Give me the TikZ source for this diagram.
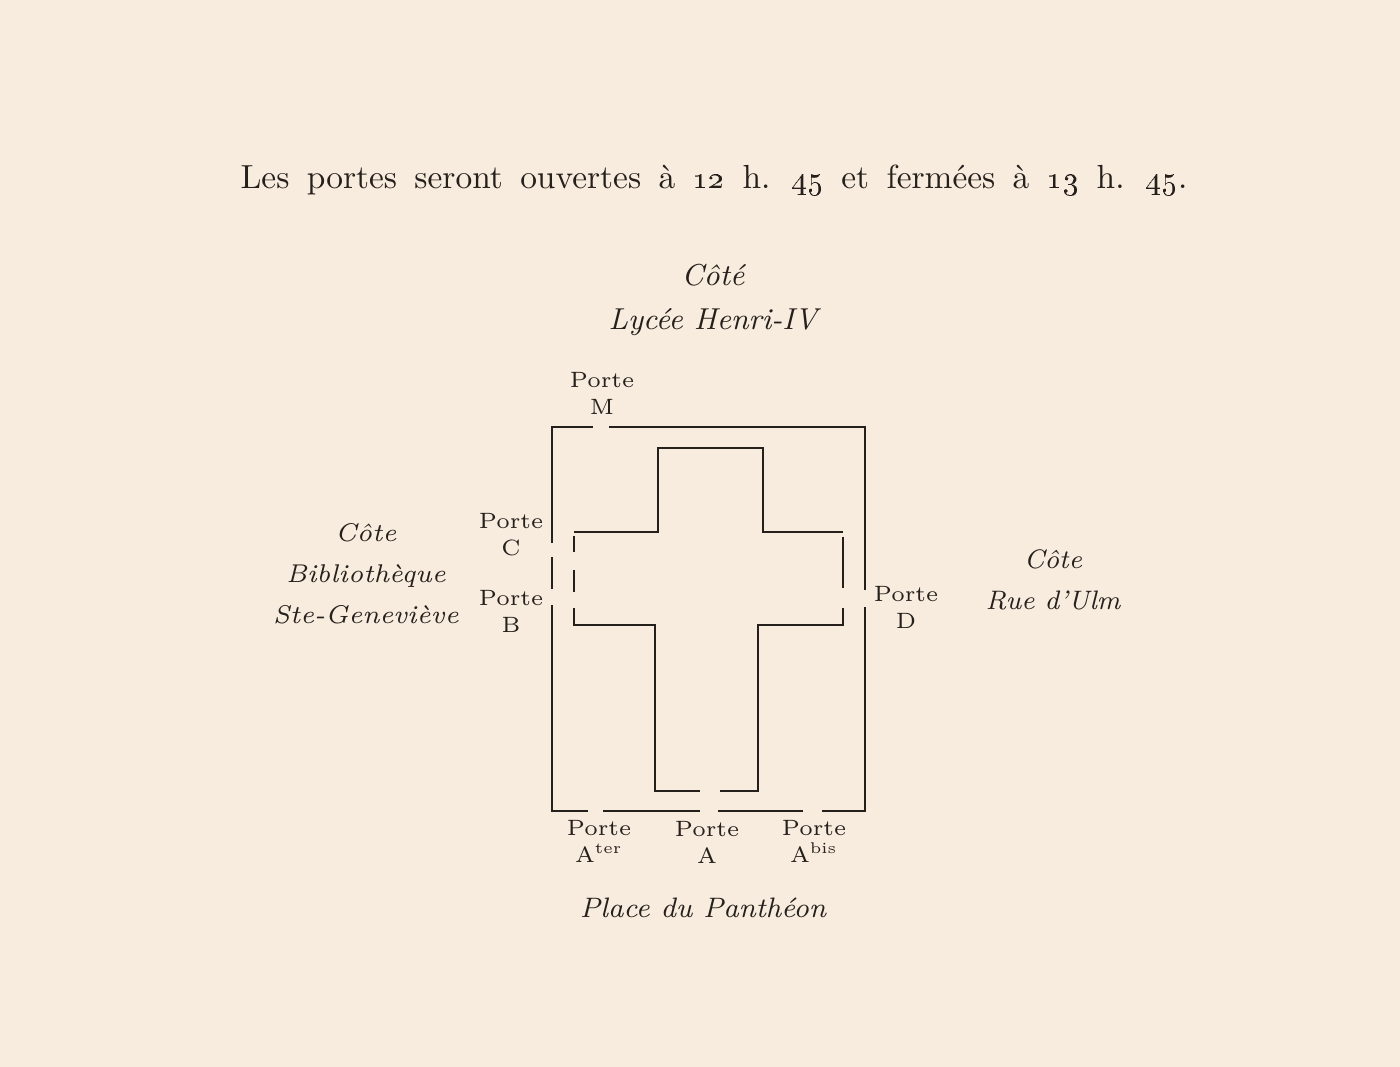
\documentclass[tikz,border=0pt]{standalone}
\definecolor{paper}{RGB}{248,236,222}
\definecolor{ink}{RGB}{38,32,28}
\tikzset{
   wall/.style={draw=ink, line width=0.55pt},
   porte/.style={font=\fontsize{6.3}{7.7}\selectfont, text=ink, align=center, inner sep=0pt},
   cote/.style={font=\fontsize{8}{11.7}\selectfont\itshape, text=ink, align=center, inner sep=0pt}
}
\begin{document}
\begin{tikzpicture}[x=0.01cm, y=-0.01cm]
   \def\xl{552}   % outer wall, left
   \def\xr{865}   % outer wall, right
   \def\yt{427}   % outer wall, top
   \def\yb{811}   % outer wall, bottom
   \fill[paper] (0,0) rectangle (1400,1067);   % page
   \node[font=\fontsize{9.5}{11}\selectfont, text=ink] (titre) at (714,180)
      {\spaceskip=0.52em\relax Les portes seront ouvertes à \oldstylenums{12} h. \oldstylenums{45} et fermées à \oldstylenums{13} h. \oldstylenums{45}.};
   % outer wall, with the doors left open
   \draw[wall] (609,\yt) -- (\xr,\yt) -- (\xr,590);
   \draw[wall] (\xr,607) -- (\xr,\yb) -- (822,\yb);
   \draw[wall] (803,\yb) -- (718,\yb);
   \draw[wall] (700,\yb) -- (603,\yb);
   \draw[wall] (588,\yb) -- (\xl,\yb) -- (\xl,605);
   \draw[wall] (\xl,589) -- (\xl,557);
   \draw[wall] (\xl,543) -- (\xl,\yt) -- (593,\yt);
   % the cross
   \draw[wall] (574,532) -- (658,532) -- (658,448) -- (763,448) -- (763,532) -- (843,532);
   \draw[wall] (843,537) -- (843,588);
   \draw[wall] (843,608) -- (843,625) -- (758,625) -- (758,791) -- (720,791);
   \draw[wall] (700,791) -- (655,791) -- (655,625) -- (574,625) -- (574,608);
   \draw[wall] (574,592) -- (574,570);
   \draw[wall] (574,552) -- (574,536);
   % doors
   \node[porte] (pM) at (602,393) {Porte\\M};
   \node[porte] (pC) at (511,535) {Porte\\C};
   \node[porte] (pB) at (511,611) {Porte\\B};
   \node[porte] (pD) at (906,607) {Porte\\D};
   \node[porte] (pAter) at (599,841) {Porte\\A\textsuperscript{ter}};
   \node[porte] (pA) at (707,842) {Porte\\A};
   \node[porte] (pAbis) at (814,841) {Porte\\A\textsuperscript{bis}};
   % sides
   \node[cote, font=\fontsize{8.6}{12.6}\selectfont\itshape] (nord) at (713,300) {Côté\\Lycée Henri-IV};
   \node[cote, font=\fontsize{7.3}{11.7}\selectfont\itshape] (ouest) at (366,574) {Côte\\Bibliothèque\\Ste-Geneviève};
   \node[cote, font=\fontsize{7.6}{11.7}\selectfont\itshape] (est) at (1053,580) {Côte\\Rue d'Ulm};
   \node[cote] (sud) at (703,908) {Place du Panthéon};
\end{tikzpicture}
\end{document}
